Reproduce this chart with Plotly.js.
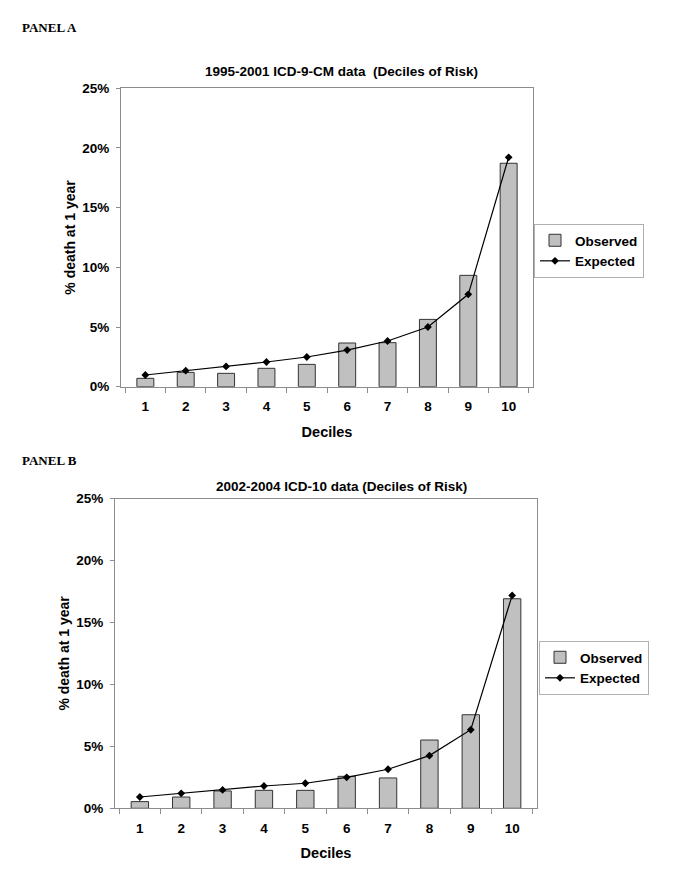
<!DOCTYPE html>
<html>
<head>
<meta charset="utf-8">
<script src="https://cdn.plot.ly/plotly-3.0.1.min.js"></script>
<style>html,body{margin:0;padding:0;background:#fff;}#chart{width:685px;height:887px;}</style>
</head>
<body>
<div id="chart"></div>
<script>
const deciles = ['1','2','3','4','5','6','7','8','9','10'];
const observedA = [0.70, 1.20, 1.12, 1.54, 1.87, 3.66, 3.69, 5.64, 9.33, 18.72];
const expectedA = [0.98, 1.34, 1.70, 2.07, 2.49, 3.07, 3.83, 5.00, 7.74, 19.22];
const observedB = [0.54, 0.91, 1.40, 1.45, 1.45, 2.58, 2.45, 5.51, 7.55, 16.91];
const expectedB = [0.91, 1.21, 1.48, 1.80, 2.02, 2.50, 3.15, 4.25, 6.34, 17.18];
const titleA = '1995-2001 ICD-9-CM data  (Deciles of Risk)';
const titleB = '2002-2004 ICD-10 data (Deciles of Risk)';
const yTickVals = [0, 5, 10, 15, 20, 25];
const yTickText = ['0%', '5%', '10%', '15%', '20%', '25%'];

const W = 685, H = 887;
const px = v => v / W;
const py = v => 1 - v / H;
const F = 'Arial, "Liberation Sans", Helvetica, sans-serif';

const barStyle = {color: '#c0c0c0', line: {color: '#333333', width: 1}};
const lineStyle = {color: '#000000', width: 1.2};
const markStyle = {symbol: 'diamond', size: 6, color: '#000000'};

const traces = [
  {type: 'bar', x: deciles, y: observedA, name: 'Observed', marker: barStyle, xaxis: 'x', yaxis: 'y', legend: 'legend', hoverinfo: 'y'},
  {type: 'scatter', mode: 'lines+markers', x: deciles, y: expectedA, name: 'Expected', line: lineStyle, marker: markStyle, xaxis: 'x', yaxis: 'y', legend: 'legend'},
  {type: 'bar', x: deciles, y: observedB, name: 'Observed', marker: barStyle, xaxis: 'x2', yaxis: 'y2', legend: 'legend2', hoverinfo: 'y'},
  {type: 'scatter', mode: 'lines+markers', x: deciles, y: expectedB, name: 'Expected', line: lineStyle, marker: markStyle, xaxis: 'x2', yaxis: 'y2', legend: 'legend2'}
];

function xAxis(domain, anchor) {
  return {
    domain: domain, anchor: anchor, type: 'category',
    showline: true, linecolor: '#8c8c8c', linewidth: 1, mirror: true,
    ticks: 'outside', tickson: 'boundaries', ticklen: 5, tickcolor: '#8c8c8c',
    ticklabelstandoff: 7,
    showgrid: false, zeroline: false,
    tickfont: {family: F, size: 13.5, color: '#000', weight: 'bold'},
    title: {text: 'Deciles', font: {family: F, size: 14.5, color: '#000', weight: 'bold'}, standoff: 13},
    fixedrange: true
  };
}
function yAxis(domain, anchor) {
  return {
    domain: domain, anchor: anchor, range: [0, 25],
    tickmode: 'array', tickvals: yTickVals, ticktext: yTickText,
    showline: true, linecolor: '#8c8c8c', linewidth: 1, mirror: true,
    ticks: 'outside', ticklen: 4, tickcolor: '#8c8c8c',
    ticklabelstandoff: 4,
    showgrid: false, zeroline: false,
    tickfont: {family: F, size: 13.5, color: '#000', weight: 'bold'},
    title: {text: '% death at 1 year', font: {family: F, size: 14, color: '#000', weight: 'bold'}, standoff: 3},
    fixedrange: true
  };
}

const legendBase = {
  xanchor: 'left', yanchor: 'top', bgcolor: '#ffffff',
  bordercolor: '#b0b0b0', borderwidth: 1,
  font: {family: F, size: 13.5, color: '#000', weight: 'bold'},
  itemwidth: 30, tracegroupgap: 0
};

const layout = {
  width: W, height: H,
  margin: {l: 0, r: 0, t: 0, b: 0},
  paper_bgcolor: '#ffffff', plot_bgcolor: '#ffffff',
  barmode: 'group', bargap: 0.58,
  xaxis: xAxis([px(121), px(533)], 'y'),
  yaxis: yAxis([py(386.7), py(88.3)], 'x'),
  xaxis2: xAxis([px(115), px(537)], 'y2'),
  yaxis2: yAxis([py(808.3), py(498.5)], 'x2'),
  legend: Object.assign({}, legendBase, {x: px(534), y: py(224)}),
  legend2: Object.assign({}, legendBase, {x: px(539), y: py(641)}),
  annotations: [
    {text: '<b>PANEL A</b>', xref: 'paper', yref: 'paper', x: px(20), y: py(28), xanchor: 'left', yanchor: 'middle', showarrow: false, font: {family: '"Liberation Serif", "Times New Roman", serif', size: 13, color: '#000'}},
    {text: '<b>PANEL B</b>', xref: 'paper', yref: 'paper', x: px(20), y: py(460), xanchor: 'left', yanchor: 'middle', showarrow: false, font: {family: '"Liberation Serif", "Times New Roman", serif', size: 13, color: '#000'}},
    {text: '<b>' + titleA + '</b>', xref: 'paper', yref: 'paper', x: px(341.5), y: py(72), xanchor: 'center', yanchor: 'middle', showarrow: false, font: {family: F, size: 13.5, color: '#000'}},
    {text: '<b>' + titleB + '</b>', xref: 'paper', yref: 'paper', x: px(341.5), y: py(487), xanchor: 'center', yanchor: 'middle', showarrow: false, font: {family: F, size: 13.5, color: '#000'}}
  ]
};

Plotly.newPlot('chart', traces, layout, {displayModeBar: false, staticPlot: true});
</script>
</body>
</html>
